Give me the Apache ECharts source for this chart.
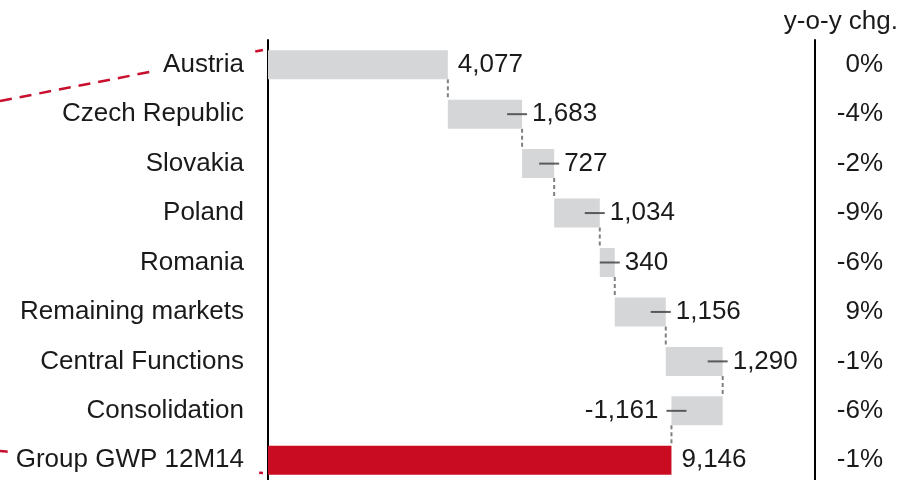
<!DOCTYPE html>
<html>
<head>
<meta charset="utf-8">
<script src="https://cdn.jsdelivr.net/npm/echarts@6/dist/echarts.min.js"></script>
<style>
  html, body { margin: 0; padding: 0; background: #fff; overflow: hidden; }
  #chart { width: 903px; height: 492px; }
</style>
</head>
<body>
<div id="chart"></div>
<script>
var categories = ['Austria', 'Czech Republic', 'Slovakia', 'Poland', 'Romania',
    'Remaining markets', 'Central Functions', 'Consolidation', 'Group GWP 12M14'];
var values = [4077, 1683, 727, 1034, 340, 1156, 1290, -1161, 9146];
var yoyChange = ['0%', '-4%', '-2%', '-9%', '-6%', '9%', '-1%', '-6%', '-1%'];

var FONT = 'Arial, "Liberation Sans", sans-serif';
var last = values.length - 1;

// waterfall: invisible base + visible piece
var bases = [], pieces = [], runAfter = [];
var run = 0;
values.forEach(function (v, i) {
    if (i === last) {
        bases.push(0); pieces.push(v); runAfter.push(v);
    } else if (v >= 0) {
        bases.push(run); pieces.push(v); run += v; runAfter.push(run);
    } else {
        run += v; bases.push(run); pieces.push(-v); runAfter.push(run);
    }
});

var barData = pieces.map(function (p, i) {
    return {
        value: p,
        itemStyle: { color: i === last ? '#c90c22' : '#d5d6d8' },
        label: {
            show: true,
            position: values[i] < 0 ? 'left' : 'right',
            distance: values[i] < 0 ? 13 : 10,
            formatter: values[i].toLocaleString('en-US')
        }
    };
});

// small dark ticks at the bar ends (not for first and total)
var tickData = [];
values.forEach(function (v, i) {
    if (i === 0 || i === last) return;
    tickData.push({ value: [runAfter[i], i], symbolOffset: [v < 0 ? 5 : -5, 0] });
});

// dashed connectors between consecutive bars
var connData = [];
for (var i = 0; i < last; i++) connData.push([runAfter[i], i]);

var BAR_W = 29;

var myChart = echarts.init(document.getElementById('chart'));
myChart.setOption({
    animation: false,
    textStyle: { fontFamily: FONT },
    title: {
        text: 'y-o-y chg.',
        right: 0,
        top: 4,
        textStyle: { fontFamily: FONT, fontSize: 26, fontWeight: 'normal', color: '#1a1a1a' }
    },
    graphic: [
        {
            type: 'line', z: -10,
            shape: { x1: 0, y1: 101, x2: 263, y2: 50 },
            style: { stroke: '#c8102e', lineWidth: 2.5, lineDash: [12, 8] }
        },
        {
            type: 'line', z: -10,
            shape: { x1: 0, y1: 451, x2: 263, y2: 473 },
            style: { stroke: '#c8102e', lineWidth: 2.5, lineDash: [12, 8] }
        }
    ],
    grid: { left: 268, width: 547, top: 40, height: 445 },
    xAxis: {
        type: 'value',
        min: 0,
        max: 12400,
        show: false
    },
    yAxis: [
        {
            type: 'category',
            inverse: true,
            data: categories,
            axisLine: { lineStyle: { color: '#000', width: 2 } },
            axisTick: { show: false },
            axisLabel: {
                margin: 16,
                fontSize: 26,
                color: '#1a1a1a',
                fontFamily: FONT,
                backgroundColor: '#fff',
                padding: [5, 8]
            }
        },
        {
            type: 'category',
            inverse: true,
            position: 'right',
            data: yoyChange,
            axisLine: { lineStyle: { color: '#000', width: 2 } },
            axisTick: { show: false },
            axisLabel: {
                margin: 68,
                align: 'right',
                fontSize: 26,
                color: '#1a1a1a',
                fontFamily: FONT
            }
        }
    ],
    series: [
        {
            name: 'base',
            type: 'bar',
            stack: 'wf',
            barWidth: BAR_W,
            itemStyle: { color: 'transparent' },
            silent: true,
            data: bases
        },
        {
            name: 'value',
            type: 'bar',
            stack: 'wf',
            barWidth: BAR_W,
            label: { fontSize: 26, color: '#1a1a1a', fontFamily: FONT },
            data: barData
        },
        {
            name: 'connectors',
            type: 'custom',
            silent: true,
            z: 1,
            data: connData,
            renderItem: function (params, api) {
                var x = api.value(0), idx = api.value(1);
                var p1 = api.coord([x, idx]);
                var p2 = api.coord([x, idx + 1]);
                return {
                    type: 'line',
                    shape: { x1: p1[0], y1: p1[1] + BAR_W / 2, x2: p2[0], y2: p2[1] - BAR_W / 2 },
                    style: { stroke: '#808080', lineWidth: 2, lineDash: [4, 3] }
                };
            }
        },
        {
            name: 'ticks',
            type: 'scatter',
            silent: true,
            z: 5,
            symbol: 'rect',
            symbolSize: [20, 2],
            itemStyle: { color: '#3a3a3a' },
            data: tickData
        }
    ]
});
</script>
</body>
</html>
